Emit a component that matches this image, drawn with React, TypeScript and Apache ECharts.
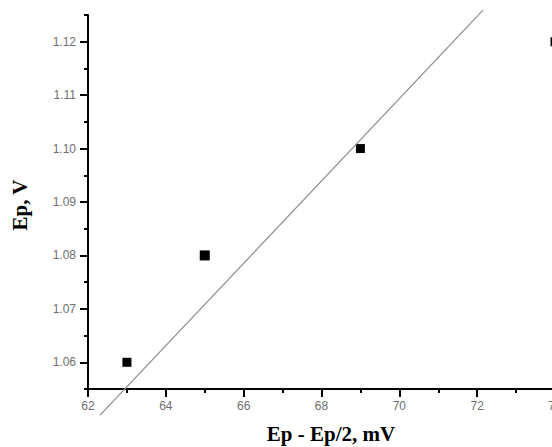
import React, { useEffect, useRef } from "react";
import * as echarts from "echarts";

// Measured points
const xValues = [63, 65, 69, 74];
const yValues = [1.06, 1.08, 1.1, 1.12];
const symbolSizes = [9, 10, 9, 9];

// Fitted straight line end points
const fitX = [62.31, 72.15];
const fitY = [1.0501, 1.1259];

// Tick positions
const xMajorTicks = [62, 64, 66, 68, 70, 72, 74];
const xMinorTicks = [63, 65, 67, 69, 71, 73];
const yMajorTicks = [1.06, 1.07, 1.08, 1.09, 1.1, 1.11, 1.12];
const yMinorTicks = [1.055, 1.065, 1.075, 1.085, 1.095, 1.105, 1.115, 1.125];

const xTitle = "Ep - Ep/2, mV";
const yTitle = "Ep, V";

export default function App() {
  const ref = useRef<HTMLDivElement>(null);
  useEffect(() => {
    if (!ref.current) return;
    const chart = echarts.init(ref.current, undefined, { renderer: "svg" });
    const labelStyle = {
      color: "#6e6e6e",
      fontSize: 12,
      fontFamily: "Liberation Sans, Arial, sans-serif",
    };
    const axisLine = { show: true, onZero: false, lineStyle: { color: "#000", width: 2, opacity: 1 } };
    chart.setOption({
      animation: false,
      backgroundColor: "#fff",
      grid: {
        left: 88,
        right: -3,
        top: 15,
        bottom: 58,
        containLabel: false,
        outerBoundsMode: "none",
      },
      xAxis: [
        {
          type: "value",
          min: 62,
          max: 74,
          position: "bottom",
          axisLine,
          splitLine: { show: false },
          axisTick: {
            show: true,
            customValues: xMajorTicks,
            length: 8,
            inside: false,
            lineStyle: { color: "#000", width: 2 },
          },
          axisLabel: {
            ...labelStyle,
            customValues: xMajorTicks,
            margin: 11,
            hideOverlap: false,
            showMaxLabel: true,
            formatter: (v: number) => String(Math.round(v)),
          },
        },
        {
          type: "value",
          min: 62,
          max: 74,
          position: "bottom",
          axisLine: { show: false },
          splitLine: { show: false },
          axisTick: {
            show: true,
            customValues: xMinorTicks,
            length: 4,
            lineStyle: { color: "#000", width: 2 },
          },
          axisLabel: { show: false },
        },
      ],
      yAxis: [
        {
          type: "value",
          min: 1.055,
          max: 1.125,
          position: "left",
          axisLine,
          splitLine: { show: false },
          axisTick: {
            show: true,
            customValues: yMajorTicks,
            length: 8,
            lineStyle: { color: "#000", width: 2 },
          },
          axisLabel: {
            ...labelStyle,
            customValues: yMajorTicks,
            margin: 12,
            formatter: (v: number) => v.toFixed(2),
          },
        },
        {
          type: "value",
          min: 1.055,
          max: 1.125,
          position: "left",
          axisLine: { show: false },
          splitLine: { show: false },
          axisTick: {
            show: true,
            customValues: yMinorTicks,
            length: 4,
            lineStyle: { color: "#000", width: 2 },
          },
          axisLabel: { show: false },
        },
      ],
      series: [
        {
          type: "line",
          data: fitX.map((x, i) => [x, fitY[i]]),
          showSymbol: false,
          clip: false,
          lineStyle: { color: "#8c8c8c", width: 1.2 },
          silent: true,
        },
        {
          type: "scatter",
          data: xValues.map((x, i) => ({
            value: [x, yValues[i]],
            symbolSize: symbolSizes[i],
          })),
          symbol: "rect",
          clip: false,
          itemStyle: { color: "#000", opacity: 1 },
        },
      ],
      graphic: [
        {
          type: "text",
          x: 331,
          y: 434,
          style: {
            text: xTitle,
            fill: "#000",
            font: "bold 21px 'Liberation Serif', 'Times New Roman', serif",
            align: "center",
            verticalAlign: "middle",
          },
        },
        {
          type: "text",
          x: 20,
          y: 205,
          rotation: Math.PI / 2,
          style: {
            text: yTitle,
            fill: "#000",
            font: "bold 21px 'Liberation Serif', 'Times New Roman', serif",
            align: "center",
            verticalAlign: "middle",
          },
        },
      ],
    });
    return () => chart.dispose();
  }, []);
  return (
    <div
      ref={ref}
      style={{ position: "fixed", left: 0, top: 0, width: 552, height: 447, overflow: "hidden" }}
    />
  );
}
